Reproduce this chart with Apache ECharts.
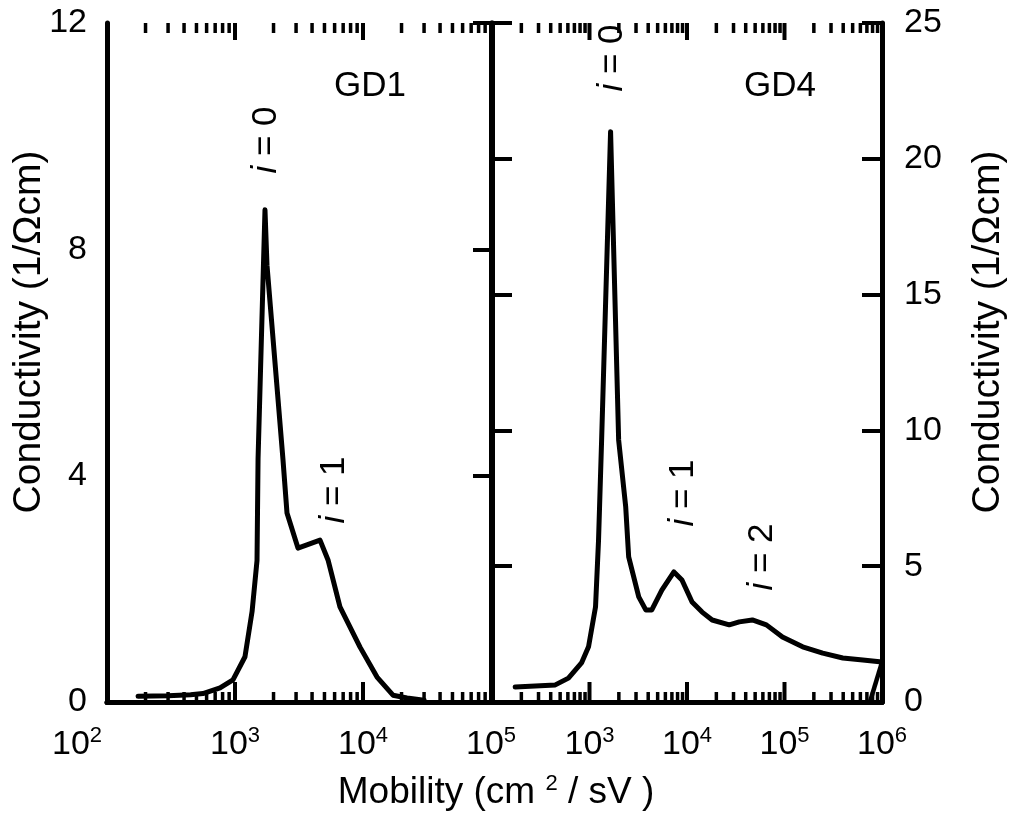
<!DOCTYPE html>
<html><head><meta charset="utf-8">
<script src="https://cdn.jsdelivr.net/npm/echarts@6.0.0/dist/echarts.min.js"></script>
<style>html,body{margin:0;padding:0;background:#fff}#c{width:1015px;height:839px}</style>
</head><body><div id="c"></div>
<script>
// ---- data ----
const gd1Mobility = [175, 300, 450, 562, 764, 964, 1197, 1360, 1486, 1514, 1715, 1778, 2371, 2548, 3104, 4614, 5331, 6607, 9480, 12870, 17150, 22080, 30000];
const gd1Conductivity = [0.10, 0.11, 0.13, 0.15, 0.25, 0.39, 0.80, 1.6, 2.5, 4.3, 8.7, 7.72, 4.28, 3.34, 2.72, 2.86, 2.51, 1.68, 0.97, 0.44, 0.12, 0.07, 0.03];
const gd4Mobility = [173, 446, 608, 828, 977, 1153, 1238, 1330, 1645, 1990, 2350, 2522, 3200, 3777, 4355, 5520, 7340, 8875, 11270, 14290, 18120, 27120, 34360, 46800, 65200, 95300, 153500, 246600, 396000, 636000, 1000000];
const gd4Conductivity = [0.55, 0.63, 0.88, 1.44, 2.03, 3.5, 5.96, 9.6, 21.0, 9.65, 7.2, 5.34, 3.87, 3.39, 3.39, 4.12, 4.79, 4.49, 3.68, 3.31, 3.02, 2.84, 2.95, 3.02, 2.84, 2.39, 2.03, 1.80, 1.62, 1.55, 1.47];
const gd4EdgeMobility = [752000, 1000000];
const gd4EdgeConductivity = [0, 1.47];

const leftXMin = 100, leftXMax = 100000;
const rightXMin = 100, rightXMax = 1000000;
const leftYMin = 0, leftYMax = 12, leftYStep = 4;
const rightYMin = 0, rightYMax = 25, rightYStep = 5;
const minorMultipliers = [2, 3, 4, 5, 6, 7, 8, 9];
const yAxisTitle = 'Conductivity (1/Ωcm)';
const xAxisTitle = 'Mobility (cm {s|2} / sV )';

// ---- chart ----
const FONT = '"Liberation Sans", Arial, Helvetica, sans-serif';
const zip = (a, b) => a.map((v, i) => [v, b[i]]);
const chart = echarts.init(document.getElementById('c'), null, {renderer: 'canvas'});

const lineW = 5;
const TICK_FS = 34, NAME_FS = 39, XNAME_FS = 37, NOTE_FS = 35;
const axisLine = {show: true, lineStyle: {color: '#000', width: lineW}};
const richX = {
  b: {fontSize: TICK_FS, fontFamily: FONT, color: '#000', lineHeight: 40},
  s: {fontSize: 22, fontFamily: FONT, color: '#000', verticalAlign: 'top', lineHeight: 40},
  p: {width: 60}
};
function expLabel(v, padFirst) {
  const e = Math.round(Math.log10(v));
  return '{b|10}{s|' + e + '}' + (padFirst ? '{p|}' : '');
}

// log ticks (major at decades, minor at 2..9) drawn inside both horizontal borders
function logTicks(xi, yi, lo, hi, yMin, yMax) {
  const data = [];
  for (let d = lo; d <= hi; d *= 10) {
    data.push([d, yMin, 1]);
    if (d < hi) minorMultipliers.forEach(m => data.push([d * m, yMin, 0]));
  }
  return {
    type: 'custom', xAxisIndex: xi, yAxisIndex: yi, silent: true, z: 1, clip: false,
    encode: {x: 0, y: 1},
    data,
    renderItem(params, api) {
      const v = api.value(0);
      const major = api.value(2) === 1;
      const b = api.coord([v, yMin]);
      const t = api.coord([v, yMax]);
      const lb = major ? 20 : 10, lt = major ? 17 : 10;
      const style = {stroke: '#000', lineWidth: major ? 4 : 3.5};
      return {type: 'group', children: [
        {type: 'line', shape: {x1: b[0], y1: b[1], x2: b[0], y2: b[1] - lb}, style},
        {type: 'line', shape: {x1: t[0], y1: t[1], x2: t[0], y2: t[1] + lt}, style}
      ]};
    }
  };
}

function textEl(x, y, text, rotate, fs) {
  fs = fs || NOTE_FS;
  return {
    type: 'text', x, y, rotation: rotate ? Math.PI / 2 : 0, z: 10,
    style: {
      text, fill: '#000', font: fs + 'px ' + FONT, align: 'center', verticalAlign: 'middle',
      rich: {
        i: {fontStyle: 'italic', fontSize: fs, fontFamily: FONT},
        n: {fontSize: fs, fontFamily: FONT},
        s: {fontSize: 22, fontFamily: FONT, verticalAlign: 'top', lineHeight: 40}
      }
    }
  };
}

const noTick = {show: false};
const option = {
  backgroundColor: '#fff',
  animation: false,
  grid: [
    {left: 107, top: 23, width: 384, height: 679},
    {left: 492, top: 23, width: 390, height: 679}
  ],
  xAxis: [
    {gridIndex: 0, type: 'log', logBase: 10, min: leftXMin, max: leftXMax, position: 'bottom',
     axisLine, splitLine: {show: false}, axisTick: noTick,
     axisLabel: {margin: 23, formatter: v => expLabel(v, v === leftXMin), rich: richX}},
    {gridIndex: 0, type: 'log', logBase: 10, min: leftXMin, max: leftXMax, position: 'top',
     axisLine, splitLine: {show: false}, axisTick: noTick, axisLabel: {show: false}},
    {gridIndex: 1, type: 'log', logBase: 10, min: rightXMin, max: rightXMax, position: 'bottom',
     axisLine, splitLine: {show: false}, axisTick: noTick,
     axisLabel: {margin: 23, formatter: v => (v === rightXMin ? '' : expLabel(v, false)), rich: richX}},
    {gridIndex: 1, type: 'log', logBase: 10, min: rightXMin, max: rightXMax, position: 'top',
     axisLine, splitLine: {show: false}, axisTick: noTick, axisLabel: {show: false}}
  ],
  yAxis: [
    {gridIndex: 0, type: 'value', min: leftYMin, max: leftYMax, interval: leftYStep, position: 'left',
     axisLine, splitLine: {show: false}, axisTick: noTick,
     axisLabel: {margin: 20, fontSize: TICK_FS, fontFamily: FONT, color: '#000'}},
    {gridIndex: 0, type: 'value', min: leftYMin, max: leftYMax, interval: leftYStep, position: 'right',
     axisLine, splitLine: {show: false},
     axisTick: {show: true, inside: true, length: 18, lineStyle: {width: 4, color: '#000'}},
     axisLabel: {show: false}},
    {gridIndex: 1, type: 'value', min: rightYMin, max: rightYMax, interval: rightYStep, position: 'left',
     axisLine, splitLine: {show: false},
     axisTick: {show: true, inside: true, length: 20, lineStyle: {width: 4, color: '#000'}},
     axisLabel: {show: false}},
    {gridIndex: 1, type: 'value', min: rightYMin, max: rightYMax, interval: rightYStep, position: 'right',
     axisLine, splitLine: {show: false},
     axisTick: {show: true, inside: true, length: 20, lineStyle: {width: 4, color: '#000'}},
     axisLabel: {margin: 22, fontSize: TICK_FS, fontFamily: FONT, color: '#000'}}
  ],
  series: [
    {name: 'GD1', type: 'line', xAxisIndex: 0, yAxisIndex: 0, data: zip(gd1Mobility, gd1Conductivity),
     showSymbol: false, lineStyle: {color: '#000', width: 5, join: 'round', cap: 'round'}, z: 5},
    {name: 'GD4', type: 'line', xAxisIndex: 2, yAxisIndex: 2, data: zip(gd4Mobility, gd4Conductivity),
     showSymbol: false, lineStyle: {color: '#000', width: 5, join: 'round', cap: 'round'}, z: 5},
    {name: 'GD4 edge', type: 'line', xAxisIndex: 2, yAxisIndex: 2, data: zip(gd4EdgeMobility, gd4EdgeConductivity),
     showSymbol: false, lineStyle: {color: '#000', width: 4.5}, z: 5},
    logTicks(0, 0, leftXMin, leftXMax, leftYMin, leftYMax),
    logTicks(2, 2, rightXMin, rightXMax, rightYMin, rightYMax)
  ],
  graphic: [
    textEl(266, 140, '{i|i}{n| = 0}', true),
    textEl(370, 86, 'GD1', false),
    textEl(334, 490, '{i|i}{n| = 1}', true),
    textEl(612, 58, '{i|i}{n| = 0}', true),
    textEl(780, 86, 'GD4', false),
    textEl(683, 493, '{i|i}{n| = 1}', true),
    textEl(762, 557, '{i|i}{n| = 2}', true),
    {type: 'text', x: 29, y: 332, rotation: Math.PI / 2, z: 10,
     style: {text: yAxisTitle, fill: '#000', font: NAME_FS + 'px ' + FONT, align: 'center', verticalAlign: 'middle'}},
    {type: 'text', x: 988, y: 332, rotation: Math.PI / 2, z: 10,
     style: {text: yAxisTitle, fill: '#000', font: NAME_FS + 'px ' + FONT, align: 'center', verticalAlign: 'middle'}},
    {type: 'text', x: 496, y: 793, z: 10,
     style: {text: xAxisTitle, fill: '#000', font: XNAME_FS + 'px ' + FONT, align: 'center', verticalAlign: 'middle',
             rich: {s: {fontSize: 22, fontFamily: FONT, verticalAlign: 'top', lineHeight: 40}}}}
  ]
};
chart.setOption(option);
</script>
</body></html>
